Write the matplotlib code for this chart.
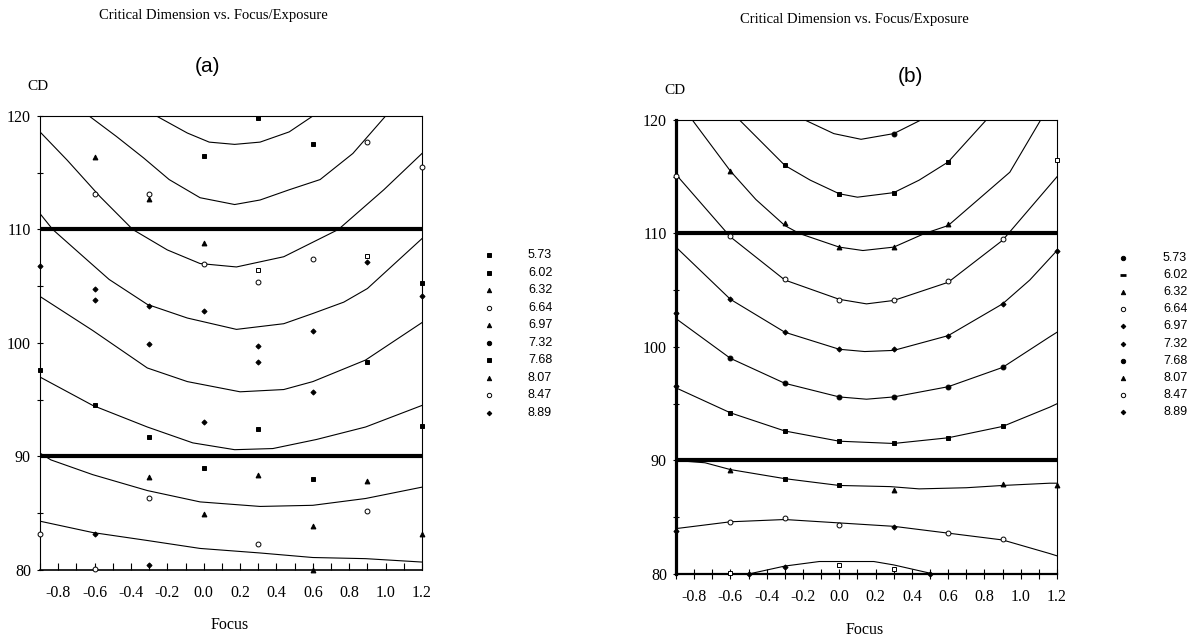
"""
Critical Dimension vs. Focus/Exposure: hai bieu do Bossung (a) va (b).
"""
import matplotlib

matplotlib.use("Agg")
import matplotlib.pyplot as plt
from matplotlib.ticker import FormatStrFormatter, MultipleLocator

W, H = 1204, 642
SERIF = "Liberation Serif"
SANS = "Liberation Sans"

FOCUS_RANGE = (-0.9, 1.2)
CD_RANGE = (80, 120)
SPEC_LIMITS = [90, 110]
EXPOSURES = ["5.73", "6.02", "6.32", "6.64", "6.97", "7.32", "7.68", "8.07", "8.47", "8.89"]

# --- panel (a): fitted curves ---
A_CURVES_FOCUS = [
    [-0.26, -0.09, 0.03, 0.17, 0.31, 0.47, 0.60],
    [-0.63, -0.48, -0.33, -0.19, -0.02, 0.17, 0.31, 0.47, 0.64, 0.82, 1.00],
    [-0.90, -0.75, -0.57, -0.39, -0.20, -0.02, 0.18, 0.44, 0.74, 0.99, 1.20],
    [-0.90, -0.83, -0.64, -0.52, -0.31, -0.09, 0.18, 0.44, 0.60, 0.77, 0.90, 1.20],
    [-0.90, -0.61, -0.31, -0.09, 0.20, 0.44, 0.60, 0.89, 1.20],
    [-0.90, -0.61, -0.31, -0.06, 0.17, 0.38, 0.62, 0.89, 1.20],
    [-0.90, -0.84, -0.61, -0.31, -0.02, 0.31, 0.60, 0.89, 1.20],
    [-0.90, -0.61, -0.31, -0.02, 0.31, 0.60, 0.89, 1.20],
]
A_CURVES_CD = [
    [120.0, 118.5, 117.7, 117.5, 117.7, 118.6, 120.0],
    [120.0, 118.2, 116.3, 114.4, 112.8, 112.2, 112.6, 113.5, 114.4, 116.7, 120.0],
    [118.6, 116.1, 112.9, 110.0, 108.2, 107.0, 106.7, 107.6, 110.0, 113.5, 116.7],
    [111.4, 110.0, 107.3, 105.6, 103.4, 102.2, 101.2, 101.7, 102.6, 103.6, 104.8, 109.2],
    [104.1, 101.1, 97.8, 96.6, 95.7, 95.9, 96.6, 98.5, 101.8],
    [97.0, 94.5, 92.6, 91.2, 90.6, 90.7, 91.5, 92.6, 94.5],
    [90.3, 89.7, 88.4, 87.0, 86.0, 85.6, 85.7, 86.3, 87.3],
    [84.3, 83.3, 82.6, 81.9, 81.5, 81.1, 81.0, 80.7],
]

# --- panel (a): measured points, grouped by marker ---
A_SQUARES = [(0.3, 119.8), (0.0, 116.5), (0.6, 117.5), (1.2, 105.3), (-0.9, 97.6), (0.9, 98.3),
             (-0.6, 94.5), (0.3, 92.4), (-0.3, 91.7), (1.2, 92.7), (0.0, 89.0), (0.6, 88.0)]
A_TRIANGLES = [(-0.6, 116.4), (-0.3, 112.7), (0.0, 108.8), (-0.3, 88.2), (0.3, 88.4), (0.9, 87.8),
               (0.0, 84.9), (0.6, 83.9), (1.2, 83.2), (0.6, 80.0)]
A_CIRCLES = [(0.9, 117.7), (1.2, 115.5), (-0.6, 113.1), (-0.3, 113.1), (0.0, 107.0), (0.3, 105.4),
             (0.6, 107.4), (-0.3, 86.3), (0.9, 85.2), (-0.9, 83.2), (0.3, 82.3), (-0.6, 80.1)]
A_OPEN_SQUARES = [(0.3, 106.4), (0.9, 107.7)]
A_DIAMONDS = [(0.9, 107.1), (-0.9, 106.8), (-0.6, 104.8), (-0.6, 103.8), (1.2, 104.1), (-0.3, 103.3),
              (0.0, 102.8), (0.6, 101.1), (-0.3, 99.9), (0.3, 99.7), (0.3, 98.3), (0.6, 95.7),
              (0.0, 93.0), (-0.6, 83.2), (-0.3, 80.4)]

# --- panel (b): fitted curves ---
B_CURVES_FOCUS = [
    [-0.19, -0.03, 0.12, 0.30, 0.45],
    [-0.55, -0.30, -0.16, 0.00, 0.10, 0.30, 0.44, 0.60, 0.81],
    [-0.81, -0.60, -0.46, -0.30, -0.22, 0.00, 0.13, 0.30, 0.47, 0.60, 0.94, 1.11],
    [-0.90, -0.60, -0.30, 0.00, 0.15, 0.30, 0.60, 0.90, 1.20],
    [-0.90, -0.60, -0.30, 0.00, 0.14, 0.30, 0.60, 0.90, 1.05, 1.20],
    [-0.90, -0.60, -0.30, 0.00, 0.15, 0.30, 0.60, 0.90, 1.16, 1.20],
    [-0.90, -0.60, -0.30, 0.00, 0.15, 0.30, 0.60, 0.90, 1.16, 1.20],
    [-0.90, -0.74, -0.60, -0.30, 0.00, 0.28, 0.44, 0.70, 0.90, 1.16, 1.20],
    [-0.90, -0.60, -0.30, 0.00, 0.30, 0.60, 0.90, 1.16, 1.20],
    [-0.50, -0.30, -0.11, 0.19, 0.30, 0.52],
]
B_CURVES_CD = [
    [120.0, 118.8, 118.3, 118.8, 120.0],
    [120.0, 116.0, 114.7, 113.5, 113.2, 113.6, 114.7, 116.3, 120.0],
    [120.0, 115.5, 113.0, 110.7, 110.0, 108.8, 108.5, 108.8, 110.0, 110.7, 115.4, 120.0],
    [115.2, 109.7, 105.9, 104.2, 103.8, 104.1, 105.7, 109.4, 115.0],
    [108.8, 104.2, 101.3, 99.8, 99.6, 99.7, 101.0, 103.8, 105.9, 108.5],
    [102.5, 99.0, 96.8, 95.6, 95.4, 95.6, 96.5, 98.2, 100.9, 101.3],
    [96.4, 94.2, 92.6, 91.7, 91.6, 91.5, 92.0, 93.0, 94.7, 95.0],
    [90.0, 89.8, 89.2, 88.4, 87.8, 87.7, 87.5, 87.6, 87.8, 88.0, 88.0],
    [84.0, 84.6, 84.8, 84.5, 84.2, 83.6, 83.0, 81.8, 81.6],
    [80.0, 80.7, 81.1, 81.1, 80.8, 80.0],
]

B_DOTS = [(0.3, 118.8), (-0.6, 99.0), (-0.3, 96.8), (0.0, 95.6), (0.3, 95.6), (0.6, 96.5), (0.9, 98.2)]
B_SQUARES = [(-0.3, 116.0), (0.0, 113.5), (0.3, 113.6), (0.6, 116.3), (-0.6, 94.2), (-0.3, 92.6),
             (0.0, 91.7), (0.3, 91.5), (0.6, 92.0), (0.9, 93.0), (-0.3, 88.4), (0.0, 87.8)]
B_OPEN_SQUARES = [(1.2, 116.5), (-0.6, 80.1), (0.0, 80.8), (0.3, 80.4)]
B_TRIANGLES = [(-0.6, 115.5), (-0.3, 110.9), (0.0, 108.8), (0.3, 108.8), (0.6, 110.8), (-0.6, 89.2),
               (0.3, 87.4), (0.9, 87.9), (1.2, 87.8)]
B_CIRCLES = [(-0.9, 115.1), (-0.6, 109.8), (-0.3, 106.0), (0.0, 104.1), (0.3, 104.1), (0.6, 105.8),
             (0.9, 109.5), (-0.6, 84.6), (-0.3, 84.9), (0.0, 84.3), (0.6, 83.6), (0.9, 83.1)]
B_DIAMONDS = [(-0.6, 104.2), (-0.3, 101.3), (0.0, 99.8), (0.3, 99.8), (0.6, 101.0), (0.9, 103.8),
              (1.2, 108.5), (-0.9, 103.0), (-0.9, 96.6), (-0.9, 83.8), (0.3, 84.1), (-0.5, 80.0),
              (-0.3, 80.6), (0.5, 80.0)]

A_LEGEND_MARKERS = ["s", "s", "^", "o", "^", "o", "s", "^", "o", "D"]
A_LEGEND_FILLED = [True, True, True, False, True, True, True, True, False, True]
B_LEGEND_MARKERS = ["o", "_", "^", "o", "D", "D", "o", "^", "o", "D"]
B_LEGEND_FILLED = [True, True, True, False, True, True, True, True, False, True]

MARKER_SIZE = {"s": 3.2, "^": 3.5, "o": 3.5, "D": 2.6, "_": 5}


def px_rect(left, top, right, bottom):
    return [left / W, 1 - bottom / H, (right - left) / W, (bottom - top) / H]


def fig_text(fig, x, y, text, **kw):
    fig.text(x / W, 1 - y / H, text, ha="center", va="center", **kw)


def plot_points(ax, pts, marker, filled):
    xs = [p[0] for p in pts]
    ys = [p[1] for p in pts]
    ax.plot(xs, ys, linestyle="none", marker=marker, ms=MARKER_SIZE[marker],
            mfc="black" if filled else "white", mec="black", mew=0.7,
            clip_on=False, zorder=4)


def draw_panel(fig, rect, curves_f, curves_cd, point_groups, thick_axes):
    ax = fig.add_axes(rect)
    for f, cd in zip(curves_f, curves_cd):
        ax.plot(f, cd, color="black", lw=0.8, zorder=2)
    for y in SPEC_LIMITS:
        ax.axhline(y, color="black", lw=3.0, zorder=3)
    for pts, marker, filled in point_groups:
        plot_points(ax, pts, marker, filled)

    ax.set_xlim(*FOCUS_RANGE)
    ax.set_ylim(*CD_RANGE)
    ax.xaxis.set_major_locator(MultipleLocator(0.2))
    ax.xaxis.set_minor_locator(MultipleLocator(0.1))
    ax.xaxis.set_major_formatter(FormatStrFormatter("%.1f"))
    ax.yaxis.set_major_locator(MultipleLocator(10))
    ax.yaxis.set_minor_locator(MultipleLocator(5))

    for side in ("top", "right"):
        ax.spines[side].set_linewidth(0.8)
    if thick_axes:
        ax.spines["left"].set_linewidth(2.3)
        ax.spines["bottom"].set_linewidth(1.6)
        xdir, xlen, xpad = "inout", 7, 7
    else:
        ax.spines["left"].set_linewidth(0.8)
        ax.spines["bottom"].set_linewidth(1.2)
        xdir, xlen, xpad = "in", 5, 11
    ax.tick_params(axis="x", which="both", direction=xdir, length=xlen, width=0.8,
                   pad=xpad, labelsize=11.5)
    ax.tick_params(axis="y", which="both", direction="inout", length=5, width=0.8,
                   pad=4, labelsize=11.5)
    for lab in ax.get_xticklabels() + ax.get_yticklabels():
        lab.set_fontfamily(SERIF)
    return ax


def draw_legend(fig, rect, markers, filled, marker_x, text_x):
    lax = fig.add_axes(rect)
    lax.set_xlim(0, 100)
    lax.set_ylim(len(EXPOSURES) - 0.5, -0.5)
    lax.axis("off")
    for i, (label, m, f) in enumerate(zip(EXPOSURES, markers, filled)):
        lax.plot([marker_x], [i], linestyle="none", marker=m, ms=MARKER_SIZE[m] * 0.9,
                 mfc="black" if f else "white", mec="black", mew=0.7 if m != "_" else 2.0)
        lax.text(text_x, i, label, ha="left", va="center", fontsize=9, family=SANS)


def main() -> None:
    plt.rcParams["axes.unicode_minus"] = False
    fig = plt.figure(figsize=(W / 100, H / 100), dpi=100)

    draw_panel(
        fig, px_rect(40, 116, 422, 570), A_CURVES_FOCUS, A_CURVES_CD,
        [(A_SQUARES, "s", True), (A_TRIANGLES, "^", True), (A_CIRCLES, "o", False),
         (A_OPEN_SQUARES, "s", False), (A_DIAMONDS, "D", True)],
        thick_axes=False,
    )
    draw_panel(
        fig, px_rect(676, 120, 1057, 574), B_CURVES_FOCUS, B_CURVES_CD,
        [(B_DOTS, "o", True), (B_SQUARES, "s", True), (B_OPEN_SQUARES, "s", False),
         (B_TRIANGLES, "^", True), (B_CIRCLES, "o", False), (B_DIAMONDS, "D", True)],
        thick_axes=True,
    )

    # legends
    draw_legend(fig, px_rect(470, 246.2, 570, 421.8), A_LEGEND_MARKERS, A_LEGEND_FILLED, 19, 58)
    draw_legend(fig, px_rect(1100, 249.4, 1200, 420.5), B_LEGEND_MARKERS, B_LEGEND_FILLED, 23, 63)

    # titles and labels
    title = "Critical Dimension vs. Focus/Exposure"
    fig_text(fig, 213, 15, title, fontsize=10.5, family=SERIF)
    fig_text(fig, 854, 20, title, fontsize=10.5, family=SERIF)
    fig_text(fig, 208, 66, "(a)", fontsize=15, family=SANS)
    fig_text(fig, 910, 76, "(b)", fontsize=15, family=SANS)
    fig_text(fig, 38, 87, "CD", fontsize=11, family=SERIF)
    fig_text(fig, 675, 90, "CD", fontsize=11, family=SERIF)
    fig_text(fig, 230, 625, "Focus", fontsize=11.5, family=SERIF)
    fig_text(fig, 865, 630, "Focus", fontsize=11.5, family=SERIF)

    fig.savefig("out.png", dpi=100)


if __name__ == "__main__":
    main()
